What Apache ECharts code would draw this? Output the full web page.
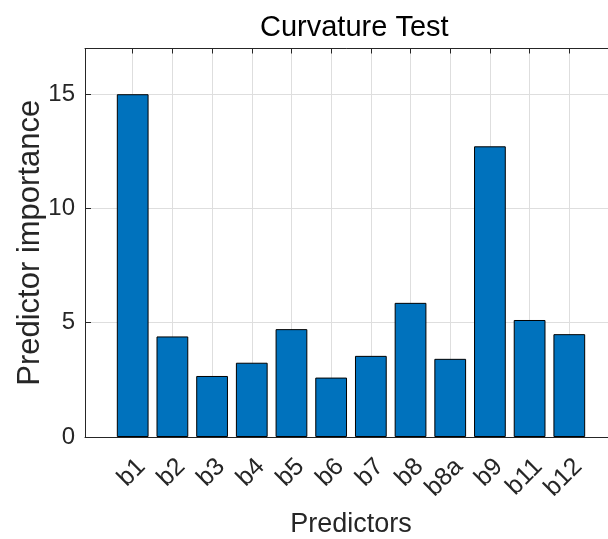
<!DOCTYPE html>
<html>
<head>
<meta charset="utf-8">
<script src="https://cdn.jsdelivr.net/npm/echarts@6/dist/echarts.min.js"></script>
<style>html,body{margin:0;padding:0;background:#fff;}#c{width:608px;height:539px;}</style>
</head>
<body>
<div id="c"></div>
<script>
const categories = ['b1','b2','b3','b4','b5','b6','b7','b8','b8a','b9','b11','b12'];
const importance = [15.0, 4.4, 2.67, 3.25, 4.72, 2.6, 3.55, 5.87, 3.42, 12.72, 5.12, 4.5];
const yTicks = [0, 5, 10, 15];
const yMax = 17;

const FONT = 'Liberation Sans, Arial, Helvetica, sans-serif';
const TXT = '#262626';
const GRIDC = '#dedede';
const TOP = 48.5, BOTTOM = 102;

const chart = echarts.init(document.getElementById('c'), null, {renderer: 'canvas'});
chart.setOption({
  backgroundColor: '#fff',
  animation: false,
  title: {
    text: 'Curvature Test',
    left: 255, top: 8,
    textStyle: {fontFamily: FONT, fontSize: 29, fontWeight: 'normal', color: '#000'}
  },
  grid: [
    {left: 85, right: -9, top: TOP, bottom: BOTTOM, containLabel: false, outerBoundsMode: 'none'},
    {left: 132.7, right: 38.7, top: TOP, bottom: BOTTOM, containLabel: false, outerBoundsMode: 'none'}
  ],
  xAxis: [
    {
      gridIndex: 0, type: 'value', min: 0, max: 1, position: 'bottom',
      axisLine: {show: true, onZero: false, lineStyle: {color: TXT, width: 1}},
      axisTick: {show: false}, axisLabel: {show: false}, splitLine: {show: false},
      name: 'Predictors', nameLocation: 'middle', nameGap: 74, nameMoveOverlap: false,
      nameTextStyle: {fontFamily: FONT, fontSize: 27, color: TXT}
    },
    {
      gridIndex: 0, type: 'value', min: 0, max: 1, position: 'top',
      axisLine: {show: true, onZero: false, lineStyle: {color: TXT, width: 1}},
      axisTick: {show: false}, axisLabel: {show: false}, splitLine: {show: false}
    },
    {
      gridIndex: 1, type: 'category', data: categories, boundaryGap: false, position: 'bottom',
      axisLine: {show: false},
      axisTick: {show: true, inside: true, length: 5, interval: 0, lineStyle: {color: TXT}},
      splitLine: {show: true, interval: 0, lineStyle: {color: GRIDC, width: 1}},
      axisLabel: {
        show: true, interval: 0, rotate: 45, align: 'right', verticalAlign: 'top',
        margin: 17,
        fontFamily: FONT, fontSize: 25, color: TXT
      }
    },
    {
      gridIndex: 1, type: 'category', data: categories, boundaryGap: false, position: 'top',
      axisLine: {show: false},
      axisTick: {show: true, inside: true, length: 5, interval: 0, lineStyle: {color: TXT}},
      axisLabel: {show: false}, splitLine: {show: false}
    }
  ],
  yAxis: [
    {
      gridIndex: 0, type: 'value', min: 0, max: yMax, interval: 5,
      axisLine: {show: true, lineStyle: {color: TXT, width: 1}},
      axisTick: {show: true, inside: true, length: 6, lineStyle: {color: TXT}},
      splitLine: {show: true, lineStyle: {color: GRIDC, width: 1}},
      axisLabel: {
        margin: 10, fontFamily: FONT, fontSize: 24, color: TXT,
        formatter: v => (yTicks.indexOf(v) >= 0 ? String(v) : '')
      },
      name: 'Predictor importance', nameLocation: 'middle', nameGap: 39, nameMoveOverlap: false,
      nameTextStyle: {fontFamily: FONT, fontSize: 31, color: TXT}
    },
    {
      gridIndex: 1, type: 'value', min: 0, max: yMax, interval: 5, show: false
    }
  ],
  series: [{
    type: 'bar', xAxisIndex: 2, yAxisIndex: 1,
    data: importance, barWidth: '80%', clip: false,
    itemStyle: {color: '#0072BD', borderColor: '#000', borderWidth: 1},
    emphasis: {disabled: true}
  }]
});
</script>
</body>
</html>
